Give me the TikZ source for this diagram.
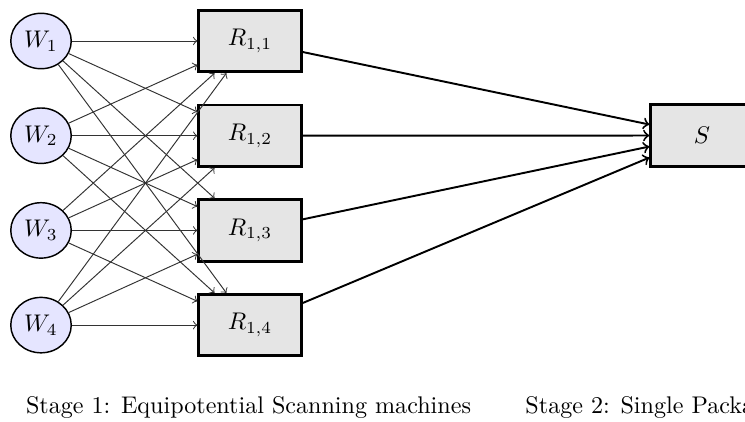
\documentclass[tikz,border=0pt]{standalone}
\usetikzlibrary{shapes.geometric}
\begin{document}
\begin{tikzpicture}[x=0.415pt,y=-0.415pt,
  wnode/.style={ellipse,draw,line width=0.6pt,fill=blue!10,minimum width=25.1pt,minimum height=23pt,inner sep=0pt},
  rnode/.style={rectangle,draw,line width=1.2pt,fill=gray!20,minimum width=42.5pt,minimum height=25.5pt,inner sep=0pt},
  warrow/.style={->,line width=0.4pt,black!80},
  sarrow/.style={->,line width=0.8pt},
  caption/.style={inner sep=0pt,font=\normalsize}]
\useasboundingbox (0,0) rectangle (745,421);
\clip (0,0) rectangle (745,421);
\foreach \i/\y in {1/41,2/135.7,3/230.4,4/325.1}{
  \node[wnode] (W\i) at (41,\y) {$W_{\i}$};
  \node[rnode] (R\i) at (250,\y) {$R_{1,\i}$};
}
\node[rnode] (S) at (702,135.5) {$S$};
\foreach \i in {1,...,4}{
  \foreach \j in {1,...,4}{
    \draw[warrow] (W\i) -- (R\j);
  }
  \draw[sarrow] (R\i) -- (S);
}
\node[caption,anchor=base] (cap1) at (248.5,413.5) {Stage 1: Equipotential Scanning machines};
\node[caption,anchor=base west] (cap2) at (525,413.5) {Stage 2: Single Packaging machine};
\end{tikzpicture}
\end{document}
